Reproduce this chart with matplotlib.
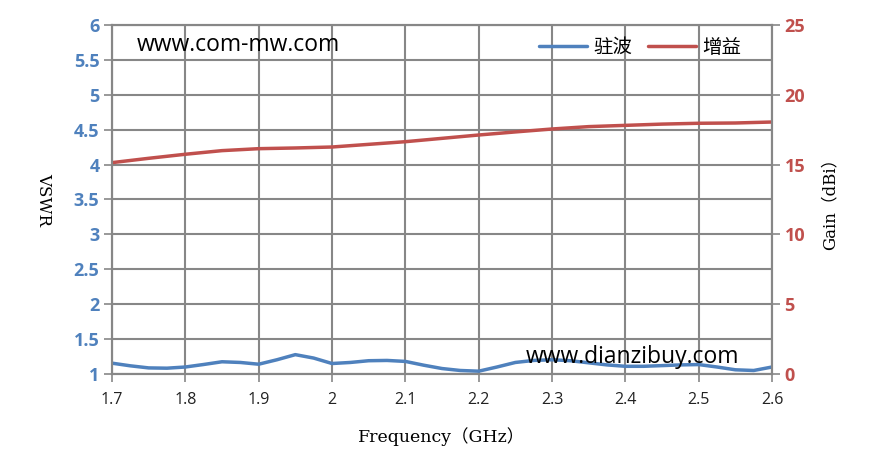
import numpy as np
import matplotlib.pyplot as plt

plt.rcParams['font.family'] = ['Open Sans', 'Noto Sans CJK SC', 'DejaVu Sans']

# VSWR (GHz, ratio)
freq = [1.700, 1.725, 1.750, 1.775, 1.800, 1.825, 1.850, 1.875, 1.900, 1.925,
        1.950, 1.975, 2.000, 2.025, 2.050, 2.075, 2.100, 2.125, 2.150, 2.175,
        2.200, 2.225, 2.250, 2.275, 2.300, 2.325, 2.350, 2.375, 2.400, 2.425,
        2.450, 2.475, 2.500, 2.525, 2.550, 2.575, 2.600]
vswr = [1.155, 1.117, 1.087, 1.083, 1.100, 1.136, 1.175, 1.165, 1.140, 1.204,
        1.277, 1.228, 1.150, 1.165, 1.190, 1.194, 1.180, 1.126, 1.078, 1.050,
        1.040, 1.100, 1.165, 1.194, 1.204, 1.190, 1.160, 1.130, 1.110, 1.110,
        1.120, 1.130, 1.135, 1.100, 1.060, 1.050, 1.100]

# gain (dBi)
gain_freq = [1.70, 1.75, 1.80, 1.85, 1.90, 1.95, 2.00, 2.05, 2.10, 2.15,
             2.20, 2.25, 2.30, 2.35, 2.40, 2.45, 2.50, 2.55, 2.60]
gain = [15.14, 15.45, 15.74, 16.00, 16.14, 16.19, 16.26, 16.45, 16.64, 16.88,
        17.12, 17.34, 17.55, 17.72, 17.81, 17.90, 17.96, 17.98, 18.05]

blue = '#4F81BD'
red = '#C0504D'
grid_c = '#878787'
lbl_font = ['DejaVu Serif', 'Noto Sans CJK SC']

fig = plt.figure(figsize=(8.79, 4.69), dpi=100)
ax = fig.add_axes([0.1274, 0.2026, 0.7509, 0.7441])
ax2 = ax.twinx()

l1, = ax.plot(freq, vswr, color=blue, lw=2.5, label='驻波', solid_capstyle='round')
l2, = ax2.plot(gain_freq, gain, color=red, lw=2.5, label='增益', solid_capstyle='round')

ax.set_xlim(1.7, 2.6)
ax.set_ylim(1, 6)
ax2.set_ylim(0, 25)
ax.set_xticks(np.arange(1.7, 2.61, 0.1))
ax.set_xticklabels(['1.7', '1.8', '1.9', '2', '2.1', '2.2', '2.3', '2.4', '2.5', '2.6'])
ax.set_yticks(np.arange(1, 6.01, 0.5))
ax.set_yticklabels(['1', '1.5', '2', '2.5', '3', '3.5', '4', '4.5', '5', '5.5', '6'])
ax2.set_yticks([0, 5, 10, 15, 20, 25])

ax.grid(True, color=grid_c, lw=1.5)
for a in (ax, ax2):
    for s in a.spines.values():
        s.set_color(grid_c)
        s.set_linewidth(1.5)
ax.tick_params(axis='x', direction='out', length=6, color=grid_c, width=1.2,
               labelsize=11.5, labelcolor='#222222', pad=7)
ax.tick_params(axis='y', direction='out', length=6, color=grid_c, width=1.2,
               labelsize=13, labelcolor=blue, pad=3)
ax2.tick_params(axis='y', direction='out', length=6, color=grid_c, width=1.2,
                labelsize=13, labelcolor=red, pad=3)
for t in ax.get_yticklabels() + ax2.get_yticklabels():
    t.set_fontweight('bold')

ax.set_xlabel('Frequency（GHz）', family=lbl_font, fontsize=12.5, labelpad=14)
ax.set_ylabel('VSWR', family=lbl_font, fontsize=12, rotation=-90,
              labelpad=28, va='bottom')
ax2.set_ylabel('Gain（dBi）', family=lbl_font, fontsize=12, labelpad=12)

ax.legend(handles=[l1, l2], loc='upper right', bbox_to_anchor=(0.98, 1.01),
          ncol=2, frameon=False, fontsize=14, handlelength=2.5,
          columnspacing=0.8, handletextpad=0.3)

ax.text(0.038, 0.943, 'www.com-mw.com', transform=ax.transAxes, fontsize=16.5,
        ha='left', va='center', color='black')
ax.text(0.951, 0.048, 'www.dianzibuy.com', transform=ax.transAxes, fontsize=16.5,
        ha='right', va='center', color='black')

fig.savefig('out.png', dpi=100)
